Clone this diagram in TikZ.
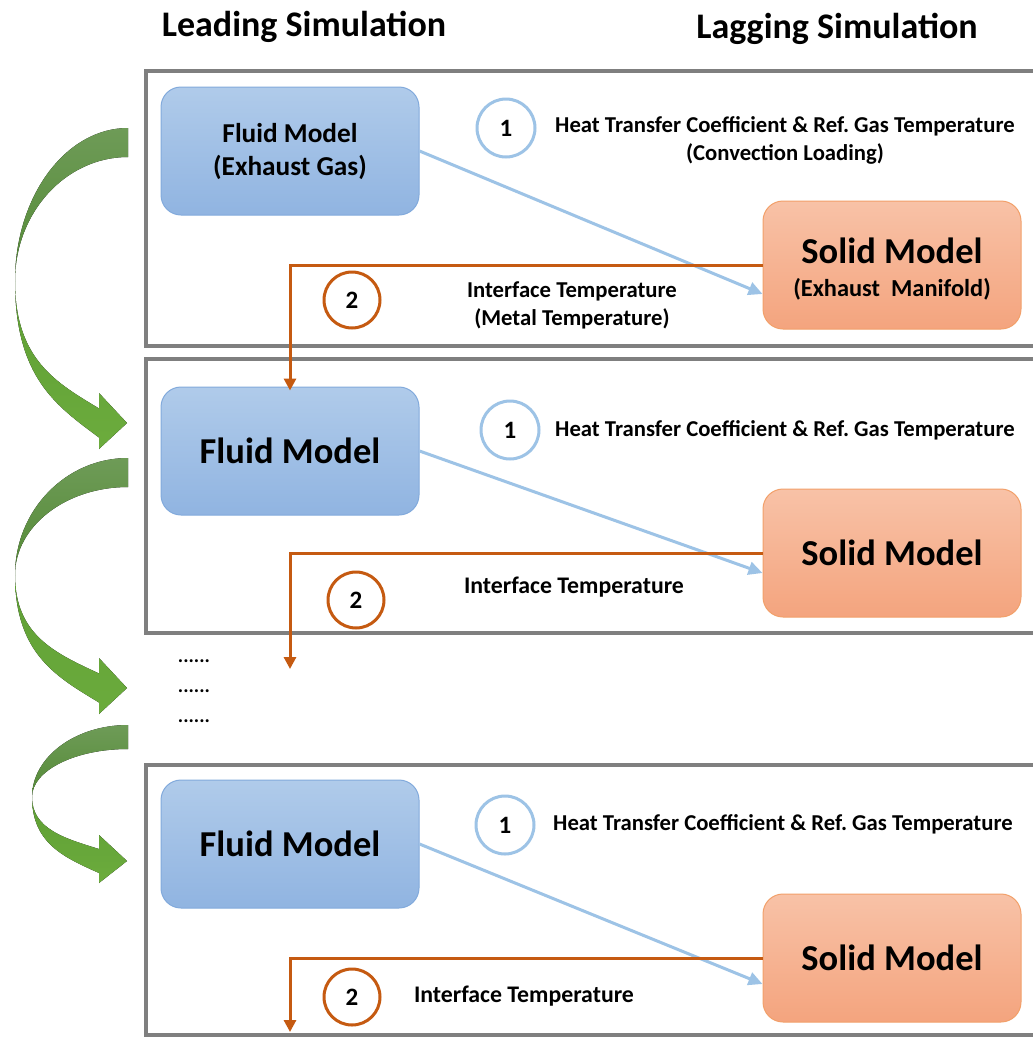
\documentclass[tikz,border=0pt]{standalone}
\usepackage{fontspec}
\setmainfont{Carlito}
\usetikzlibrary{arrows.meta,calc}
\definecolor{panelgray}{HTML}{7F7F7F}
\definecolor{bluetop}{HTML}{B0CBEA}
\definecolor{bluebot}{HTML}{90B4E1}
\definecolor{blueedge}{HTML}{82AADC}
\definecolor{bluearrow}{HTML}{9DC3E6}
\definecolor{orangetop}{HTML}{F8C2A7}
\definecolor{orangebot}{HTML}{F4A47E}
\definecolor{orangeedge}{HTML}{F2A06A}
\definecolor{orangeline}{HTML}{C55A11}
\definecolor{gdarkA}{HTML}{6E9B57}
\definecolor{gdarkB}{HTML}{548A36}
\definecolor{glightA}{HTML}{5E9E34}
\definecolor{glightB}{HTML}{6CAC3D}
\newcommand\grarrow[6]{%
 \pgfmathsetmacro\gax{128-#3}%
 \pgfmathsetmacro\gtopc{128-0.552*\gax}%
 \pgfmathsetmacro\gyo{#4-0.552*(#4-#1)}%
 \pgfmathsetmacro\gyi{#4-0.552*(#4-#1-#2)}%
 \pgfmathsetmacro\gin{#1+#2}%
 \fill[top color=gdarkA,bottom color=gdarkB] (128,#1) .. controls (\gtopc,#1) and (#3,\gyo) .. (#3,#4) .. controls (#3,\gyi) and (\gtopc,\gin) .. (128,\gin) -- cycle;
 \pgfmathsetmacro\gbo{#5+#2/2}%
 \pgfmathsetmacro\gbi{#5-#2/2}%
 \pgfmathsetmacro\gcx{99-0.5*(99-#3)}%
 \pgfmathsetmacro\gcyo{#4+0.62*(\gbo-#4)}%
 \pgfmathsetmacro\gcyi{#4+0.62*(\gbi-#4)}%
 \pgfmathsetmacro\gdo{\gbo-0.2*(\gbo-#4)}%
 \pgfmathsetmacro\gdi{\gbi-0.2*(\gbi-#4)}%
 \pgfmathsetmacro\gha{#5-#6-2}%
 \pgfmathsetmacro\ghb{#5+#6-2}%
 \fill[top color=glightA,bottom color=glightB] (#3,#4) .. controls (#3,\gcyo) and (\gcx,\gdo) .. (99,\gbo) -- (99,\ghb) -- (127,#5) -- (99,\gha) -- (99,\gbi) .. controls (\gcx,\gdi) and (#3,\gcyi) .. (#3,#4) -- cycle;
}
\frenchspacing
\begin{document}
\begin{tikzpicture}[x=1pt,y=-1pt,
  panel/.style={draw=panelgray,line width=4pt},
  fluidbox/.style={rounded corners=20pt,top color=bluetop,bottom color=bluebot,draw=blueedge,line width=1pt,minimum width=258pt,minimum height=128pt,inner sep=0pt,align=center,font=\bfseries},
  solidbox/.style={rounded corners=20pt,top color=orangetop,bottom color=orangebot,draw=orangeedge,line width=1pt,minimum width=258pt,minimum height=128pt,inner sep=0pt,align=center,font=\bfseries},
  numblue/.style={circle,draw=bluearrow,fill=white,line width=3pt,minimum size=58pt,inner sep=0pt,font=\bfseries\fontsize{25}{28}\selectfont},
  numorange/.style={circle,draw=orangeline,fill=white,line width=3pt,minimum size=56pt,inner sep=0pt,font=\bfseries\fontsize{25}{28}\selectfont},
  blueflow/.style={draw=bluearrow,line width=3pt,-{Triangle[length=14pt,width=13pt]}},
  oranflow/.style={draw=orangeline,line width=3pt,-{Triangle[length=12pt,width=12pt]}},
  lbl/.style={font=\bfseries\fontsize{22.7}{28}\selectfont,align=center},
  lblb/.style={font=\bfseries\fontsize{23.8}{28}\selectfont,align=center},
  ttl/.style={font=\bfseries\fontsize{36}{40}\selectfont},
  bigtxt/.style={font=\bfseries\fontsize{36.5}{40}\selectfont},
  dots/.style={font=\bfseries\fontsize{20}{24}\selectfont}
]
\useasboundingbox (0,0) rectangle (1033,1037);
\clip (0,0) rectangle (1033,1037);
\fill[white] (0,0) rectangle (1033,1037);

% titles
\node[ttl] (tlead) at (304,27) {Leading Simulation};
\node[ttl] (tlag) at (837,29) {Lagging Simulation};

% panels
\draw[panel] (1045,71) -- (146,71) -- (146,346) -- (1045,346);
\draw[panel] (1045,359) -- (146,359) -- (146,633) -- (1045,633);
\draw[panel] (1045,765) -- (146,765) -- (146,1035) -- (1045,1035);

% green arrows
\grarrow{128}{29}{15}{281}{423}{28}
\grarrow{458}{29}{15}{575}{688}{28}
\grarrow{725}{24}{32}{797}{861}{24}

% panel 1
\node[fluidbox,font=\bfseries\fontsize{27.3}{33}\selectfont] (f1) at (290,151) {Fluid Model\\(Exhaust Gas)};
\node[solidbox,font=\bfseries\fontsize{24.4}{33}\selectfont] (s1) at (892,265) {{\fontsize{36.5}{40}\selectfont\rule{0pt}{33pt}Solid Model}\\{(Exhaust\ \ Manifold)}};
\node[numblue] (c1a) at (506,128) {1};
\node[lbl] (l1a) at (785,140) {Heat Transfer Coefficient \& Ref. Gas Temperature\\(Convection Loading)};
\node[numorange] (c2a) at (352,300) {2};
\node[lbl] (l2a) at (572,305) {Interface Temperature\\(Metal Temperature)};

% panel 2
\node[fluidbox,bigtxt] (f2) at (290,451) {Fluid Model};
\node[solidbox,bigtxt] (s2) at (892,553) {Solid Model};
\node[numblue] (c1b) at (510,430) {1};
\node[lbl] (l1b) at (785,430) {Heat Transfer Coefficient \& Ref. Gas Temperature};
\node[numorange] (c2b) at (356,600) {2};
\node[lblb] (l2b) at (574,587) {Interface Temperature};

% dots
\node[dots] (d1) at (194,661) {......};
\node[dots] (d2) at (194,691) {......};
\node[dots] (d3) at (194,721) {......};

% panel 3
\node[fluidbox,bigtxt] (f3) at (290,844) {Fluid Model};
\node[solidbox,bigtxt] (s3) at (892,958) {Solid Model};
\node[numblue] (c1c) at (505,825) {1};
\node[lbl] (l1c) at (783,824) {Heat Transfer Coefficient \& Ref. Gas Temperature};
\node[numorange] (c2c) at (352,997) {2};
\node[lblb] (l2c) at (524,996) {Interface Temperature};

\coordinate (e2) at (290,669);
\coordinate (e3) at (290,1032);

% connectors
\draw[blueflow] (f1.east) -- ([yshift=-29pt]s1.west);
\draw[blueflow] (f2.east) -- ([yshift=-20pt]s2.west);
\draw[blueflow] (f3.east) -- ([yshift=-26pt]s3.west);
\draw[oranflow] (s1.west) -| ([yshift=-4pt]f2.north);
\draw[oranflow] (s2.west) -| (e2);
\draw[oranflow] (s3.west) -| (e3);
\end{tikzpicture}
\end{document}
